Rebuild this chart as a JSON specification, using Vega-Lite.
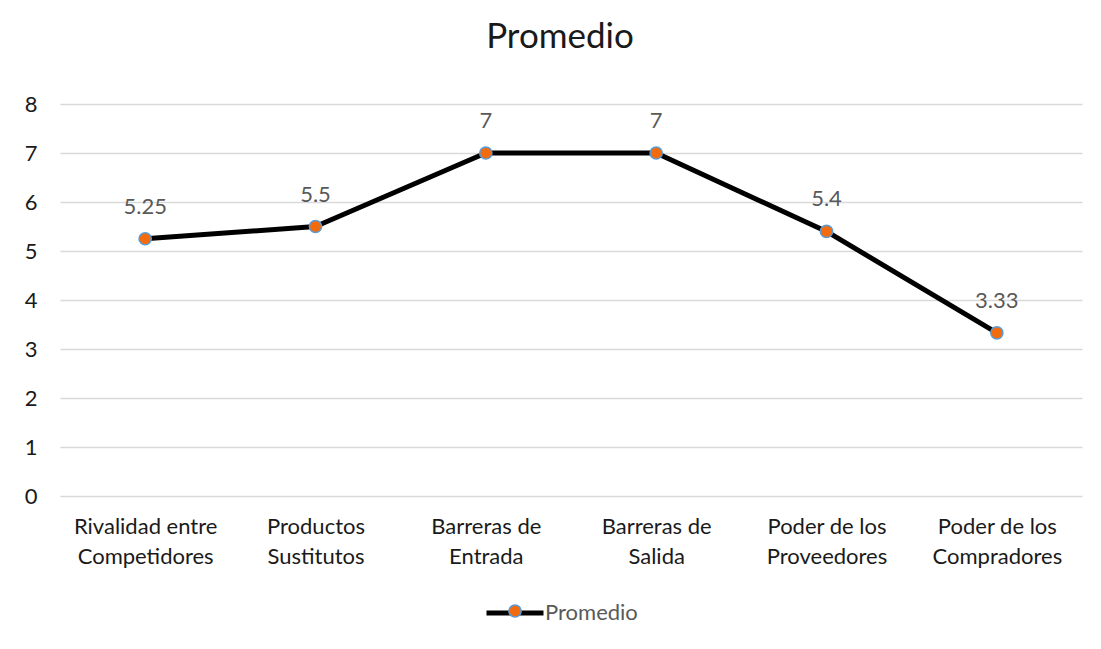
{
  "$schema": "https://vega.github.io/schema/vega-lite/v6.json",
  "width": 1022,
  "height": 392,
  "autosize": {"type": "none"},
  "padding": {"left": 60, "top": 104, "right": 19, "bottom": 153},
  "background": "white",
  "config": {"view": {"stroke": null}},
  "title": {
    "text": "Promedio",
    "font": "Lato",
    "fontSize": 35,
    "fontWeight": "normal",
    "color": "#1a1a1a",
    "anchor": "middle",
    "frame": "group",
    "dx": -11,
    "offset": 38
  },
  "data": {
    "values": [
      {"factor": "Rivalidad entre Competidores", "valor": 5.25, "serie": "Promedio"},
      {"factor": "Productos Sustitutos", "valor": 5.5, "serie": "Promedio"},
      {"factor": "Barreras de Entrada", "valor": 7, "serie": "Promedio"},
      {"factor": "Barreras de Salida", "valor": 7, "serie": "Promedio"},
      {"factor": "Poder de los Proveedores", "valor": 5.4, "serie": "Promedio"},
      {"factor": "Poder de los Compradores", "valor": 3.33, "serie": "Promedio"}
    ]
  },
  "encoding": {
    "x": {
      "field": "factor",
      "type": "nominal",
      "sort": null,
      "axis": {
        "title": null,
        "labelAngle": 0,
        "domain": false,
        "ticks": false,
        "grid": false,
        "labelFont": "Lato",
        "labelFontSize": 22,
        "labelColor": "#1a1a1a",
        "labelPadding": 20,
        "labelLineHeight": 30,
        "labelBaseline": "top",
        "labelLimit": 300,
        "labelExpr": "[substring(datum.label, 0, lastindexof(datum.label, ' ')), substring(datum.label, lastindexof(datum.label, ' ') + 1)]"
      }
    },
    "y": {
      "field": "valor",
      "type": "quantitative",
      "scale": {"domain": [0, 8], "nice": false},
      "axis": {
        "title": null,
        "values": [0, 1, 2, 3, 4, 5, 6, 7, 8],
        "domain": false,
        "ticks": false,
        "grid": true,
        "gridColor": "#d9d9d9",
        "gridWidth": 1.5,
        "labelFont": "Lato",
        "labelFontSize": 22,
        "labelColor": "#1a1a1a",
        "labelPadding": 23
      }
    }
  },
  "layer": [
    {
      "mark": {"type": "line", "strokeWidth": 5, "strokeCap": "round", "strokeJoin": "round"},
      "encoding": {
        "stroke": {
          "field": "serie",
          "type": "nominal",
          "scale": {"range": ["#000000"]},
          "legend": {
            "title": null,
            "orient": "none",
            "legendX": 424,
            "legendY": 478,
            "symbolType": "stroke",
            "symbolSize": 3249,
            "symbolStrokeWidth": 5,
            "labelFont": "Lato",
            "labelFontSize": 22,
            "labelColor": "#595959",
            "labelOffset": -1,
            "padding": 0
          }
        }
      }
    },
    {
      "mark": {"type": "point", "filled": true, "size": 150, "stroke": "#5B9BD5", "strokeWidth": 1.5, "opacity": 1},
      "encoding": {
        "fill": {
          "field": "serie",
          "type": "nominal",
          "scale": {"domain": ["Promedio"], "range": ["#F26B0F"]},
          "legend": {
            "title": null,
            "orient": "none",
            "legendX": 444,
            "legendY": 496,
            "symbolType": "circle",
            "symbolSize": 150,
            "symbolStrokeColor": "#5B9BD5",
            "symbolStrokeWidth": 1.5,
            "labelExpr": "''",
            "labelOpacity": 0,
            "labelFontSize": 22,
            "padding": 0
          }
        }
      }
    },
    {
      "mark": {"type": "text", "dy": -32, "baseline": "middle", "font": "Lato", "fontSize": 22, "color": "#595959"},
      "encoding": {
        "text": {"field": "valor", "type": "quantitative"}
      }
    }
  ]
}
